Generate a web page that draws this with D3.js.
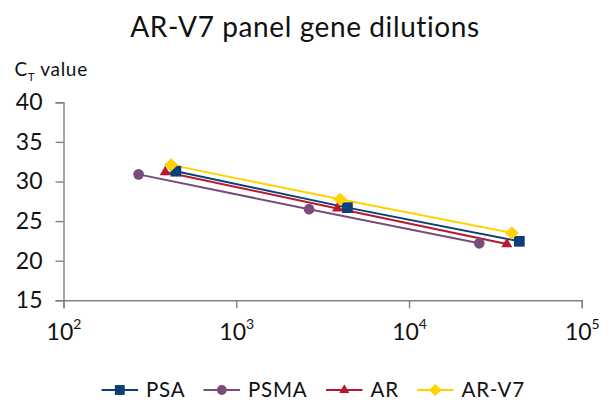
<!DOCTYPE html>
<html>
<head>
<meta charset="utf-8">
<script src="https://cdn.jsdelivr.net/npm/d3@7"></script>
<style>
  body { margin: 0; background: #fff; }
  text { font-family: "Lato", "Noto Sans", sans-serif; fill: #111; }
</style>
</head>
<body>
<div id="chart"></div>
<script>
let w = 607,
    h = 401;

// Data
let series = ["PSA", "PSMA", "AR", "AR-V7"];
let colors = ["#0b3f78", "#7d4b79", "#b8182d", "#ffd200"];
let copiesPSA  = [447, 4400, 43500];
let ctPSA      = [31.3, 26.7, 22.45];
let copiesPSMA = [272, 2640, 25500];
let ctPSMA     = [30.9, 26.5, 22.2];
let copiesAR   = [388, 3850, 36800];
let ctAR       = [31.2, 26.6, 22.1];
let copiesARV7 = [419, 3990, 39400];
let ctARV7     = [32.1, 27.75, 23.5];
let yTicks = [15, 20, 25, 30, 35, 40];
let xTicks = [100, 1000, 10000, 100000];

// diamond wider than d3's default one
let wideDiamond = {
  draw(ctx, size) {
    let a = Math.sqrt(size / 2);
    ctx.moveTo(0, -a * 0.93);
    ctx.lineTo(a, 0);
    ctx.lineTo(0, a * 0.93);
    ctx.lineTo(-a, 0);
    ctx.closePath();
  }
};
let symbols = [d3.symbolSquare, d3.symbolCircle, d3.symbolTriangle, wideDiamond];
let sizes = [115, 90, 52, 98];

let xs = [copiesPSA, copiesPSMA, copiesAR, copiesARV7];
let ys = [ctPSA, ctPSMA, ctAR, ctARV7];
let data = series.map((s, i) => ({
  name: s,
  color: colors[i],
  symbol: symbols[i],
  size: sizes[i],
  pts: xs[i].map((x, j) => [x, ys[i][j]])
}));

let x = d3.scaleLog().domain([100, 100000]).range([63.5, 581.8]);
let y = d3.scaleLinear().domain([15, 40]).range([300.3, 102.3]);

let svg = d3.select("#chart").append("svg")
  .attr("width", w)
  .attr("height", h);

// Title
svg.append("text")
  .attr("x", 305).attr("y", 36.7)
  .attr("text-anchor", "middle")
  .style("font-size", "28px")
  .style("letter-spacing", "0.6px")
  .text("AR-V7 panel gene dilutions");

// Y label with subscript T
let yl = svg.append("text")
  .attr("x", 14.5).attr("y", 76)
  .style("font-size", "19px")
  .style("letter-spacing", "0.7px");
yl.append("tspan").text("C");
yl.append("tspan").attr("dy", 5).style("font-size", "11px").text("T");
yl.append("tspan").attr("dy", -5).text(" value");

// Axes
let yAxis = svg.append("g")
  .attr("transform", "translate(63.5,0)")
  .call(d3.axisLeft(y).tickValues(yTicks).tickSize(8).tickPadding(13));
let xAxis = svg.append("g")
  .attr("transform", "translate(0,300.3)")
  .call(d3.axisBottom(x).tickValues(xTicks).tickSize(8).tickFormat(""));

[yAxis, xAxis].forEach(a => {
  a.select(".domain").attr("stroke", "#808080").attr("stroke-width", 1.4);
  a.selectAll(".tick line").attr("stroke", "#808080").attr("stroke-width", 1.4);
});
yAxis.selectAll(".tick text")
  .style("font-size", "23px")
  .style("font-family", "Lato, 'Noto Sans', sans-serif")
  .attr("fill", "#111");

// x tick labels as 10^n
xAxis.selectAll(".tick").each(function (d) {
  let t = d3.select(this).append("text")
    .attr("y", 40)
    .attr("text-anchor", "middle")
    .style("font-size", "23px")
    .attr("fill", "#111");
  t.append("tspan").text("10");
  t.append("tspan").attr("dy", -11).style("font-size", "14px").text(Math.round(Math.log10(d)));
});

// Lines
let line = d3.line().x(d => x(d[0])).y(d => y(d[1]));
svg.append("g")
  .selectAll("path")
  .data(data)
  .join("path")
  .attr("d", d => line(d.pts))
  .attr("fill", "none")
  .attr("stroke", d => d.color)
  .attr("stroke-width", 2);

// Markers
data.forEach(d => {
  svg.append("g")
    .selectAll("path")
    .data(d.pts)
    .join("path")
    .attr("transform", p => `translate(${x(p[0])},${y(p[1])})`)
    .attr("d", d3.symbol(d.symbol, d.size))
    .attr("fill", d.color);
});

// Legend
let legX = [101.5, 203.5, 326, 417];
let leg = svg.append("g")
  .selectAll("g")
  .data(data)
  .join("g")
  .attr("transform", (d, i) => `translate(${legX[i]},390)`);
leg.append("line")
  .attr("x1", 0).attr("x2", 36.5)
  .attr("stroke", d => d.color)
  .attr("stroke-width", 2);
leg.append("path")
  .attr("transform", "translate(18.3,0)")
  .attr("d", d => d3.symbol(d.symbol, d.size * 0.85)())
  .attr("fill", d => d.color);
leg.append("text")
  .attr("x", 44.5).attr("y", 7.3)
  .style("font-size", "20.5px")
  .style("letter-spacing", "0.8px")
  .text(d => d.name);
</script>
</body>
</html>
